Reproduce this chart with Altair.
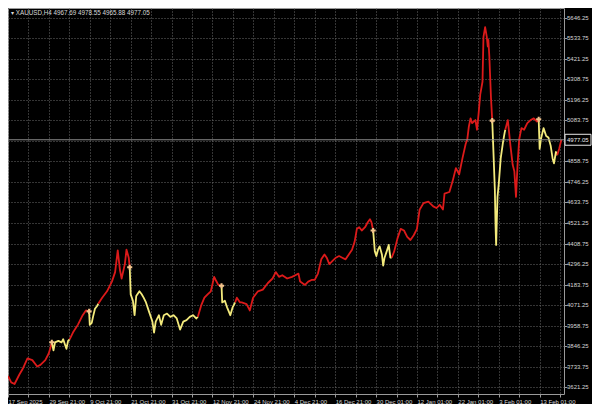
import json
import altair as alt
import pandas as pd

# ---- data (x = position along the time axis, price in USD) ----
t = [0, 3.3, 6.7, 11.7, 15, 20, 25, 30, 33.3, 38.3, 41.7, 43.3, 45,
     46.7, 48.3, 51.7, 55, 56.7, 58.3, 60, 61.7, 63.3,
     66.7, 71.7, 76.7, 80, 83.3,
     84, 86, 87.3, 89.3, 91.7, 92.7,
     96.7, 101.7, 106.7, 110, 112.7, 115, 116.7, 120, 121.7, 124, 125,
     126, 128.3, 130, 131.7, 135, 137.3, 139.3, 141.7, 145, 148.3, 150, 151.7, 155, 157.3, 160,
     163.3, 166.7, 170, 173.3, 176.7, 180, 183.3, 186.7, 190, 193.3, 195,
     198.3, 201.7, 205, 208.3, 211.7, 213.3, 216, 219.3,
     220, 222.7, 225, 228.3, 230.7, 233.3,
     235, 238.3, 240, 245, 248.3, 251.7, 256.7, 261.7, 266.7, 271.7, 275, 278.3, 281.7, 286.7,
     291.7, 295, 298.3, 300, 305, 308.3, 311.7, 315, 318.3, 321.7, 325, 327.3, 330, 333.3, 336.7,
     340, 343.3, 346.7, 350, 353.3, 356, 358.3, 360.7, 363.3, 366.7, 369.3, 371.7, 373.3, 375,
     376.7, 378.3, 380, 381.7, 384, 385.3, 386.7, 389, 391, 392.7, 394,
     396.7, 400, 403.3, 406.7, 410, 413.3, 416.7, 420, 422.7, 426.7, 431.7, 436.7, 440, 443.3,
     446.7, 448.3, 453.3, 456.7, 460, 463.3, 466.7, 470, 471.7, 473.3, 475, 476.7, 480, 481.7,
     483.3, 485, 487.3, 488.3, 490, 491.7, 492.7, 493.3, 494.3, 496, 497.3,
     498.3, 500, 500.7, 501.3, 502.7, 504, 506, 508.3, 510, 510.7,
     513.3, 516, 518.3, 520, 521.7, 523.3, 525, 527.3, 530, 533.3, 536.7, 540, 543.3, 545,
     546, 547.3, 550, 552.7, 555, 557.3, 559.3, 560.7, 562.7, 564,
     566, 568.3]

price = [3683, 3648, 3639, 3691, 3721, 3779, 3770, 3735, 3744, 3770, 3805, 3832, 3868,
         3823, 3867, 3875, 3867, 3884, 3858, 3832, 3875, 3884,
         3921, 3963, 4016, 4042, 4037,
         3963, 3974, 4007, 4051, 4068, 4079,
         4112, 4147, 4200, 4252, 4371, 4263, 4217, 4296, 4375, 4331, 4279,
         4130, 4095, 4016, 4121, 4147, 4131, 4112, 4086, 4033, 3981, 3921, 3981, 4016, 3963, 4016,
         4025, 4007, 4016, 3998, 3937, 3981, 3989, 4007, 4016, 3998, 4007,
         4068, 4112, 4130, 4147, 4226, 4209, 4182, 4177,
         4086, 4095, 4059, 4016, 4059, 4086,
         4112, 4086, 4086, 4077, 4042, 4112, 4147, 4156, 4191, 4217, 4252, 4226, 4235, 4217,
         4226, 4235, 4244, 4200, 4182, 4200, 4209, 4209, 4244, 4322, 4349, 4331, 4296, 4314, 4331,
         4340, 4331, 4322, 4349, 4375, 4419, 4489, 4498, 4480, 4498, 4524, 4542, 4524, 4480,
         4367, 4340, 4375, 4393, 4349, 4288, 4331, 4367, 4401, 4331, 4331,
         4367, 4437, 4489, 4480, 4445, 4428, 4454, 4489, 4594, 4630, 4638, 4612, 4603, 4621,
         4595, 4682, 4691, 4752, 4822, 4787, 4875, 4954, 4980, 5050, 5094, 5068, 5085, 5032,
         5120, 5226, 5295, 5541, 5594, 5541, 5488, 5524, 5436, 5208, 5082,
         4945, 4700, 4507, 4401, 4664, 4735, 4875, 4962, 5015, 5032,
         5085, 4945, 4840, 4805, 4664, 4840, 4980, 5041, 5032, 5068, 5085, 5094, 5077, 5089,
         4927, 4980, 5041, 4998, 4989, 4945, 4875, 4848, 4910, 4893,
         4927, 4977.05]

# positions where the line colour switches (red -> yellow, yellow -> red, ...)
switch_t = [45, 63.3, 83.3, 92.7, 125, 195, 219.3, 233.3, 375, 394, 497.3, 510.7, 545, 564]

x_labels = ["17 Sep 2025", "29 Sep 21:00", "9 Oct 21:00", "21 Oct 21:00", "31 Oct 21:00",
            "12 Nov 21:00", "24 Nov 21:00", "4 Dec 21:00", "16 Dec 21:00", "30 Dec 01:00",
            "12 Jan 01:00", "22 Jan 01:00", "3 Feb 01:00", "13 Feb 01:00"]
y_ticks = [3621.25, 3733.75, 3846.25, 3958.75, 4071.25, 4183.75, 4296.25, 4408.75, 4521.25,
           4633.75, 4746.25, 4858.75, 4971.25, 5083.75, 5196.25, 5308.75, 5421.25, 5533.75, 5646.25]
header = "\u25BE XAUUSD,H4  4967.69 4978.55 4965.88 4977.05"
bid = 4977.05

# ---- build tables ----
idx = [t.index(s) for s in switch_t]
bounds = [0] + idx + [len(t) - 1]
rows = []
for k in range(len(bounds) - 1):
    kind = "up" if k % 2 == 0 else "down"
    for i in range(bounds[k], bounds[k + 1] + 1):
        rows.append({"t": t[i], "price": price[i], "seg": k, "kind": kind})
line_df = pd.DataFrame(rows)
mark_df = pd.DataFrame({"t": switch_t[0::2], "price": [price[i] for i in idx[0::2]]})
bid_df = pd.DataFrame({"price": [bid], "hi": [bid + 30], "lo": [bid - 30], "txt": [f"{bid:.2f}"]})
head_df = pd.DataFrame({"txt": [header]})
ytick_df = pd.DataFrame({"price": y_ticks, "txt": [f"{v:.2f}" for v in y_ticks]})

W, H = 556, 386
xscale = alt.Scale(domain=[0, 571], nice=False, zero=False)
yscale = alt.Scale(domain=[3584.3, 5698.9], nice=False, zero=False)
grid_t = list(range(0, 568, 21))
label_expr = "datum.value % 42 == 0 ? " + json.dumps(x_labels) + "[datum.value / 42] : ''"

FONT = "Liberation Sans"

lines = alt.Chart(line_df).mark_line(strokeWidth=1.8, strokeJoin="round").encode(
    x=alt.X("t:Q", scale=xscale, axis=alt.Axis(
        values=grid_t, labelExpr=label_expr, orient="bottom", labelAlign="left",
        labelPadding=1, tickSize=3, title=None, labelFlush=False, labelOverlap=False,
        labelBaseline="top")),
    y=alt.Y("price:Q", scale=yscale, axis=alt.Axis(
        values=y_ticks, labels=False, orient="right", tickSize=3, title=None)),
    color=alt.Color("kind:N", scale=alt.Scale(domain=["up", "down"], range=["#dc1a1a", "#f3ea7c"]),
                    legend=None),
    detail="seg:N",
    order="t:Q",
)

# price labels on the right-hand scale, drawn as text at the tick prices
ylabels = alt.Chart(ytick_df).mark_text(align="left", baseline="middle", font=FONT, fontSize=6,
                                        color="#d6d6d6").encode(
    x=alt.value(W + 3), y=alt.Y("price:Q", scale=yscale, axis=None), text="txt:N"
)

bidline = alt.Chart(bid_df).mark_rule(color="#8a8a8a", strokeWidth=1).encode(
    y=alt.Y("price:Q", scale=yscale, axis=None)
)

markers = alt.Chart(mark_df).mark_point(shape="cross", filled=True, size=26, color="#f2c48c",
                                        opacity=1).encode(
    x=alt.X("t:Q", scale=xscale, axis=None), y=alt.Y("price:Q", scale=yscale, axis=None)
)

box = alt.Chart(bid_df).mark_rect(fill="#000000", stroke="#e8e8e8", strokeWidth=1).encode(
    x=alt.value(W + 1), x2=alt.value(W + 27),
    y=alt.Y("lo:Q", scale=yscale, axis=None), y2="hi:Q",
)
boxtext = alt.Chart(bid_df).mark_text(align="left", baseline="middle", font=FONT, fontSize=6,
                                      color="#f0f0f0").encode(
    x=alt.value(W + 3), y=alt.Y("price:Q", scale=yscale, axis=None), text="txt:N"
)

head = alt.Chart(head_df).mark_text(align="left", baseline="middle", font=FONT, fontSize=6.3,
                                    color="#d8d8d8").encode(
    x=alt.value(3), y=alt.value(5), text="txt:N"
)

chart = alt.layer(lines, bidline, markers, ylabels, box, boxtext, head).resolve_axis(
    x="independent", y="independent"
).properties(
    width=W, height=H,
    autosize=alt.AutoSizeParams(type="none"),
    padding={"left": 0, "top": 0, "right": 28, "bottom": 10},
    background="#000000",
).configure_view(
    stroke="#9a9a9a", strokeWidth=1, fill="#000000"
).configure_axis(
    domain=False,
    grid=True,
    gridColor="#6a6a6a",
    gridDash=[1, 2],
    gridWidth=1,
    tickColor="#9a9a9a",
    labelColor="#d6d6d6",
    labelFont=FONT,
    labelFontSize=6,
)

chart.save("out.html", embed_options={"renderer": "svg", "actions": False})
